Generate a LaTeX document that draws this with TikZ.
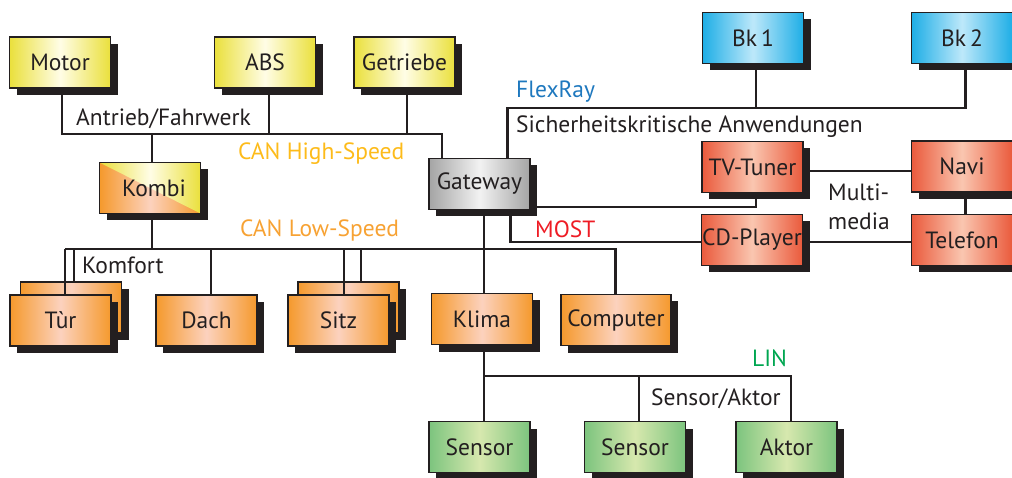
\documentclass[tikz,border=0pt]{standalone}
\usepackage{fontspec}
\setmainfont{PT Sans}
\usetikzlibrary{shadows}
\definecolor{ink}{HTML}{231F20}
\definecolor{yelE}{HTML}{EAE03C}
\definecolor{yelC}{HTML}{FFFDE6}
\definecolor{bluE}{HTML}{1EAEE6}
\definecolor{bluC}{HTML}{BDE8FA}
\definecolor{redE}{HTML}{EA5A3C}
\definecolor{redC}{HTML}{FAC6B0}
\definecolor{oraE}{HTML}{F5992C}
\definecolor{oraC}{HTML}{FCD2BE}
\definecolor{grnE}{HTML}{7CC47E}
\definecolor{grnC}{HTML}{D7E8AE}
\definecolor{gryE}{HTML}{A4A4A4}
\definecolor{gryC}{HTML}{F2F2F2}
\definecolor{cHigh}{HTML}{FDBB1A}
\definecolor{cLow}{HTML}{F7A233}
\definecolor{cFlex}{HTML}{1E78BE}
\definecolor{cMost}{HTML}{EE1C25}
\definecolor{cLin}{HTML}{00A651}
\tikzset{
  ecu/.style={draw=ink, line width=1.8pt, minimum width=101pt, minimum height=51pt,
    inner sep=0pt, text=ink, font=\fontsize{23.5}{27}\selectfont,
    drop shadow={shadow xshift=7pt, shadow yshift=-7pt, opacity=1, fill=ink, draw=none}},
  yel/.style={ecu, left color=yelE, right color=yelE, middle color=yelC},
  blu/.style={ecu, left color=bluE, right color=bluE, middle color=bluC},
  rd/.style={ecu, left color=redE, right color=redE, middle color=redC},
  ora/.style={ecu, left color=oraE, right color=oraE, middle color=oraC},
  grn/.style={ecu, left color=grnE, right color=grnE, middle color=grnC},
  gry/.style={ecu, left color=gryE, right color=gryE, middle color=gryC},
  bus/.style={draw=ink, line width=2.4pt},
  lbl/.style={anchor=base west, inner sep=0pt, text=ink, font=\fontsize{23.5}{27}\selectfont},
}
\begin{document}
\begin{tikzpicture}[x=1pt, y=-1pt]
\useasboundingbox (0,0) rectangle (1012,478);

% bus coordinates
\coordinate (hM) at (62,134);
\coordinate (hK) at (152,134);
\coordinate (hA) at (269,134);
\coordinate (hG) at (407,134);
\coordinate (hW) at (442,134);
\coordinate (lL) at (65,249);
\coordinate (lT) at (74,249);
\coordinate (lK) at (152,249);
\coordinate (lD) at (210.7,249);
\coordinate (lS1) at (344,249);
\coordinate (lS2) at (360.7,249);
\coordinate (lG) at (484,249);
\coordinate (lC) at (615.5,249);
\coordinate (nK) at (484,376);
\coordinate (nS) at (639,376);
\coordinate (nA) at (790.7,376);
\coordinate (f0) at (507.6,108);
\coordinate (f1) at (756,108);
\coordinate (f2) at (965.5,108);
\coordinate (m0) at (510.6,242);
\coordinate (m1) at (756,207);
\coordinate (m2) at (850,171);
\coordinate (tf) at (65,295);
\coordinate (sf) at (344,295);

% back boxes
\node[ora] (turback) at (71,307.5) {};
\node[ora] (sitzback) at (348.5,307.5) {};

% nodes
\node[yel] (motor) at (60,62.5) {Motor};
\node[yel] (abs) at (265,62.5) {ABS};
\node[yel] (getriebe) at (404.5,62.5) {Getriebe};
\node[blu] (bk1) at (753,38) {Bk\,1};
\node[blu] (bk2) at (962,38) {Bk\,2};
\node[ora, path picture={\shade[left color=yelE, right color=yelE, middle color=yelC]
   (path picture bounding box.north west) -- (path picture bounding box.north east)
   -- (path picture bounding box.south east) -- cycle;}] (kombi) at (150,188) {\hspace{8pt}Kombi};
\node[gry] (gateway) at (479.5,184) {Gateway};
\node[rd] (tv) at (752.5,167) {TV-Tuner};
\node[rd] (navi) at (962,166.5) {Navi};
\node[rd] (cd) at (752,240) {CD-Player};
\node[rd] (tel) at (962,240) {Telefon};
\node[ora] (dach) at (206.5,320.5) {Dach};
\node[ora] (klima) at (482,319) {Klima};
\node[ora, minimum width=110pt] (computer) at (616,320) {Computer};
\node[grn] (sensor1) at (479.5,447) {Sensor};
\node[grn] (sensor2) at (635,447) {Sensor};
\node[grn] (aktor) at (786.5,447) {Aktor};

% CAN High-Speed
\draw[bus] (motor.south -| hM) -- (hM) -- (hW) -- (gateway.north -| hW);
\draw[bus] (abs.south -| hA) -- (hA);
\draw[bus] (getriebe.south -| hG) -- (hG);
\draw[bus] (hK) -- (kombi.north -| hK);
% CAN Low-Speed
\draw[bus] (kombi.south -| lK) -- (lK);
\draw[bus] (lL) -- (lC) -- (computer.north -| lC);
\draw[bus] (lT) -- (turback.north -| lT);
\draw[bus] (lS2) -- (sitzback.north -| lS2);
\draw[bus] (lD) -- (dach.north -| lD);
\draw[bus] (gateway.south -| lG) -- (klima.north -| lG);
% LIN
\draw[bus] (klima.south -| nK) -- (sensor1.north -| nK);
\draw[bus] (nK) -- (nA) -- (aktor.north -| nA);
\draw[bus] (nS) -- (sensor2.north -| nS);
% FlexRay
\draw[bus] (gateway.north -| f0) -- (f0) -- (f2) -- (bk2.south -| f2);
\draw[bus] (bk1.south -| f1) -- (f1);
% MOST
\draw[bus] (gateway.south -| m0) -- (m0) -- (cd.west |- m0);
\draw[bus] (gateway.east |- m1) -- (m1) -- (tv.south -| m1);
\draw[bus] (tv.east |- m2) -- (navi.west |- m2);
\draw[bus] (cd.east |- m0) -- (tel.west |- m0);
\draw[bus] (navi.south -| f2) -- (tel.north -| f2);

% front boxes with lines passing over back boxes
\draw[bus] (lL) -- (tf);
\draw[bus] (lS1) -- (sf);
\node[ora] (tur) at (60.5,320.5) {Tùr};
\node[ora] (sitz) at (338.5,320.5) {Sitz};

% labels
\node[lbl] (antrieb) at (76,126) {Antrieb/Fahrwerk};
\node[lbl, text=cHigh] (canhigh) at (238,160) {CAN High-Speed};
\node[lbl, text=cFlex] (flexray) at (516,98) {FlexRay};
\node[lbl] (sicher) at (516,133) {Sicherheitskritische Anwendungen};
\node[lbl, text=cLow] (canlow) at (240,236.5) {CAN Low-Speed};
\node[lbl] (komfort) at (82,274) {Komfort};
\node[lbl, text=cMost] (most) at (535,238) {MOST};
\node[lbl] (multi) at (828,201) {Multi-};
\node[lbl] (media) at (828,230) {media};
\node[lbl, text=cLin] (lin) at (752,366.5) {LIN};
\node[lbl] (sensakt) at (651,405) {Sensor/Aktor};
\end{tikzpicture}
\end{document}
